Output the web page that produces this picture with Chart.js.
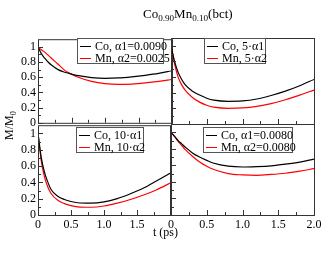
<!DOCTYPE html>
<html>
<head>
<meta charset="utf-8">
<script src="https://cdn.jsdelivr.net/npm/chart.js@4.4.1/dist/chart.umd.min.js"></script>
<style>
body { margin: 0; background: #fff; }
#wrap { position: relative; width: 330px; height: 255px; overflow: hidden; font-family: "Liberation Serif", serif; color: #000; }
#wrap canvas { position: absolute; }
.lab { position: absolute; white-space: nowrap; }
.lab sub { font-size: 70%; vertical-align: -3px; line-height: 0; }
.leg { position: absolute; box-sizing: border-box; border: 1px solid #555; background: #fff; font-size: 12px; padding-top: 1px; }
.leg div { height: 12px; line-height: 12px; white-space: nowrap; }
.leg span.ln { display: inline-block; width: 11px; height: 0; border-top: 1.5px solid #000; vertical-align: 3px; margin: 0 4px 0 2px; }
</style>
</head>
<body>
<div id="wrap">
  <canvas id="pA" width="173" height="102" style="left:0;top:30px"></canvas>
  <canvas id="pB" width="170" height="102" style="left:160px;top:30px"></canvas>
  <canvas id="pC" width="173" height="119" style="left:0;top:116px"></canvas>
  <canvas id="pD" width="170" height="119" style="left:160px;top:116px"></canvas>

  <div class="lab" style="left:143px;top:6px;font-size:13px">Co<sub>0.90</sub>Mn<sub>0.10</sub>(bct)</div>
  <div class="lab" style="left:153px;top:225px;font-size:12px">t (ps)</div>
  <div class="lab" style="left:-5px;top:118px;font-size:12px;transform:rotate(-90deg)">M/M<sub>0</sub></div>

  <div class="leg" style="left:77px;top:38px;width:87px;height:26px">
    <div><span class="ln"></span>Co, α1=0.0090</div>
    <div><span class="ln" style="border-color:#f00"></span>Mn, α2=0.0025</div>
  </div>
  <div class="leg" style="left:204px;top:38px;width:62px;height:26px">
    <div><span class="ln"></span>Co, 5·α1</div>
    <div><span class="ln" style="border-color:#f00"></span>Mn, 5·α2</div>
  </div>
  <div class="leg" style="left:76px;top:127px;width:68px;height:26px">
    <div><span class="ln"></span>Co, 10·α1</div>
    <div><span class="ln" style="border-color:#f00"></span>Mn, 10·α2</div>
  </div>
  <div class="leg" style="left:203px;top:127px;width:90px;height:26px">
    <div><span class="ln"></span>Co, α1=0.0080</div>
    <div><span class="ln" style="border-color:#f00"></span>Mn, α2=0.0080</div>
  </div>
</div>
<script>
"use strict";

// time axis (ps)
var t = [0, 0.05, 0.1, 0.15, 0.2, 0.3, 0.4, 0.5, 0.6, 0.8, 1.0, 1.2, 1.4, 1.6, 1.8, 2.0];

// alpha1 = 0.0090, alpha2 = 0.0025
var coA = [1, 0.91, 0.85, 0.80, 0.76, 0.70, 0.665, 0.64, 0.62, 0.595, 0.585, 0.59, 0.605, 0.625, 0.65, 0.685];
var mnA = [1, 0.96, 0.93, 0.89, 0.85, 0.77, 0.69, 0.64, 0.60, 0.545, 0.515, 0.505, 0.51, 0.525, 0.545, 0.57];
// 5 x alpha
var coB = [1, 0.80, 0.66, 0.57, 0.50, 0.42, 0.37, 0.33, 0.305, 0.29, 0.295, 0.32, 0.365, 0.42, 0.49, 0.57];
var mnB = [1, 0.77, 0.60, 0.50, 0.43, 0.34, 0.28, 0.24, 0.215, 0.20, 0.205, 0.225, 0.26, 0.31, 0.37, 0.435];
// 10 x alpha
var coC = [1, 0.70, 0.52, 0.40, 0.31, 0.23, 0.19, 0.165, 0.15, 0.145, 0.16, 0.20, 0.26, 0.33, 0.42, 0.51];
var mnC = [1, 0.66, 0.46, 0.34, 0.26, 0.18, 0.14, 0.115, 0.10, 0.095, 0.11, 0.145, 0.19, 0.245, 0.31, 0.39];
// alpha1 = alpha2 = 0.0080
var coD = [1, 0.95, 0.90, 0.86, 0.82, 0.75, 0.70, 0.66, 0.625, 0.59, 0.58, 0.585, 0.595, 0.615, 0.64, 0.675];
var mnD = [1, 0.95, 0.89, 0.84, 0.79, 0.71, 0.64, 0.59, 0.55, 0.50, 0.485, 0.48, 0.49, 0.505, 0.53, 0.56];

var xTicks = [0, 0.5, 1, 1.5, 2];
var xLabels = ['0', '0.5', '1.0', '1.5', '2.0'];
var xMinor = [0.25, 0.75, 1.25, 1.75];
var yTicks = [0, 0.2, 0.4, 0.6, 0.8, 1];
var yLabels = ['0', '0.2', '0.4', '0.6', '0.8', '1'];
var yMinor = [0.1, 0.3, 0.5, 0.7, 0.9];

function pts(ys) {
    return t.map(function (x, i) { return { x: x, y: ys[i] }; });
}

// xmgrace style frame with inward ticks
var frame = {
    id: 'frame',
    afterDraw: function (chart) {
        var ctx = chart.ctx, a = chart.chartArea, x = chart.scales.x, y = chart.scales.y;
        ctx.save();
        ctx.strokeStyle = '#333';
        ctx.lineWidth = 1;
        ctx.strokeRect(a.left + 0.5, a.top + 0.5, a.right - a.left, a.bottom - a.top);
        ctx.beginPath();
        function xt(v, len) {
            var px = Math.round(x.getPixelForValue(v)) + 0.5;
            ctx.moveTo(px, a.bottom); ctx.lineTo(px, a.bottom - len);
        }
        function yt(v, len) {
            var py = Math.round(y.getPixelForValue(v)) + 0.5;
            ctx.moveTo(a.left, py); ctx.lineTo(a.left + len, py);
        }
        xTicks.forEach(function (v) { xt(v, 5); });
        xMinor.forEach(function (v) { xt(v, 3); });
        yTicks.forEach(function (v) { yt(v, 5); });
        yMinor.forEach(function (v) { yt(v, 3); });
        ctx.stroke();
        ctx.restore();
    }
};

var tickFont = { family: '"Liberation Serif", serif', size: 12 };

function panel(id, co, mn, showX, showY, hideLastX, pad) {
    return new Chart(document.getElementById(id), {
        type: 'line',
        data: {
            datasets: [
                { data: pts(co), borderColor: '#000', borderWidth: 1.2, pointRadius: 0, cubicInterpolationMode: 'monotone' },
                { data: pts(mn), borderColor: '#f00', borderWidth: 1.2, pointRadius: 0, cubicInterpolationMode: 'monotone' }
            ]
        },
        options: {
            responsive: false, animation: false, devicePixelRatio: 1,
            layout: { padding: pad },
            plugins: { legend: { display: false }, tooltip: { enabled: false } },
            scales: {
                x: {
                    type: 'linear', min: 0, max: 2,
                    afterBuildTicks: function (s) { s.ticks = xTicks.map(function (v) { return { value: v }; }); },
                    afterFit: function (s) { s.height = showX ? 20 : 0; },
                    grid: { display: false, drawTicks: false, tickLength: 0 },
                    border: { display: false },
                    ticks: {
                        display: showX, autoSkip: false, maxRotation: 0, padding: 3, color: '#000', font: tickFont,
                        callback: function (v, i) { return (hideLastX && i == xTicks.length - 1) ? '' : xLabels[i]; }
                    }
                },
                y: {
                    type: 'linear', min: 0, max: 1.1,
                    afterBuildTicks: function (s) { s.ticks = yTicks.map(function (v) { return { value: v }; }); },
                    afterFit: function (s) { s.width = showY ? 38 : 0; },
                    grid: { display: false, drawTicks: false, tickLength: 0 },
                    border: { display: false },
                    ticks: {
                        display: showY, autoSkip: false, padding: 2, color: '#000', font: tickFont,
                        callback: function (v, i) { return yLabels[i]; }
                    }
                }
            }
        },
        plugins: [frame]
    });
}

panel('pA', coA, mnA, false, true, false, { top: 8, right: 1, bottom: 8, left: 0 });
panel('pB', coB, mnB, false, false, false, { top: 8, right: 16, bottom: 8, left: 11 });
panel('pC', coC, mnC, true, true, true, { top: 8, right: 1, bottom: 0, left: 0 });
panel('pD', coD, mnD, true, false, false, { top: 8, right: 16, bottom: 0, left: 11 });
</script>
</body>
</html>
